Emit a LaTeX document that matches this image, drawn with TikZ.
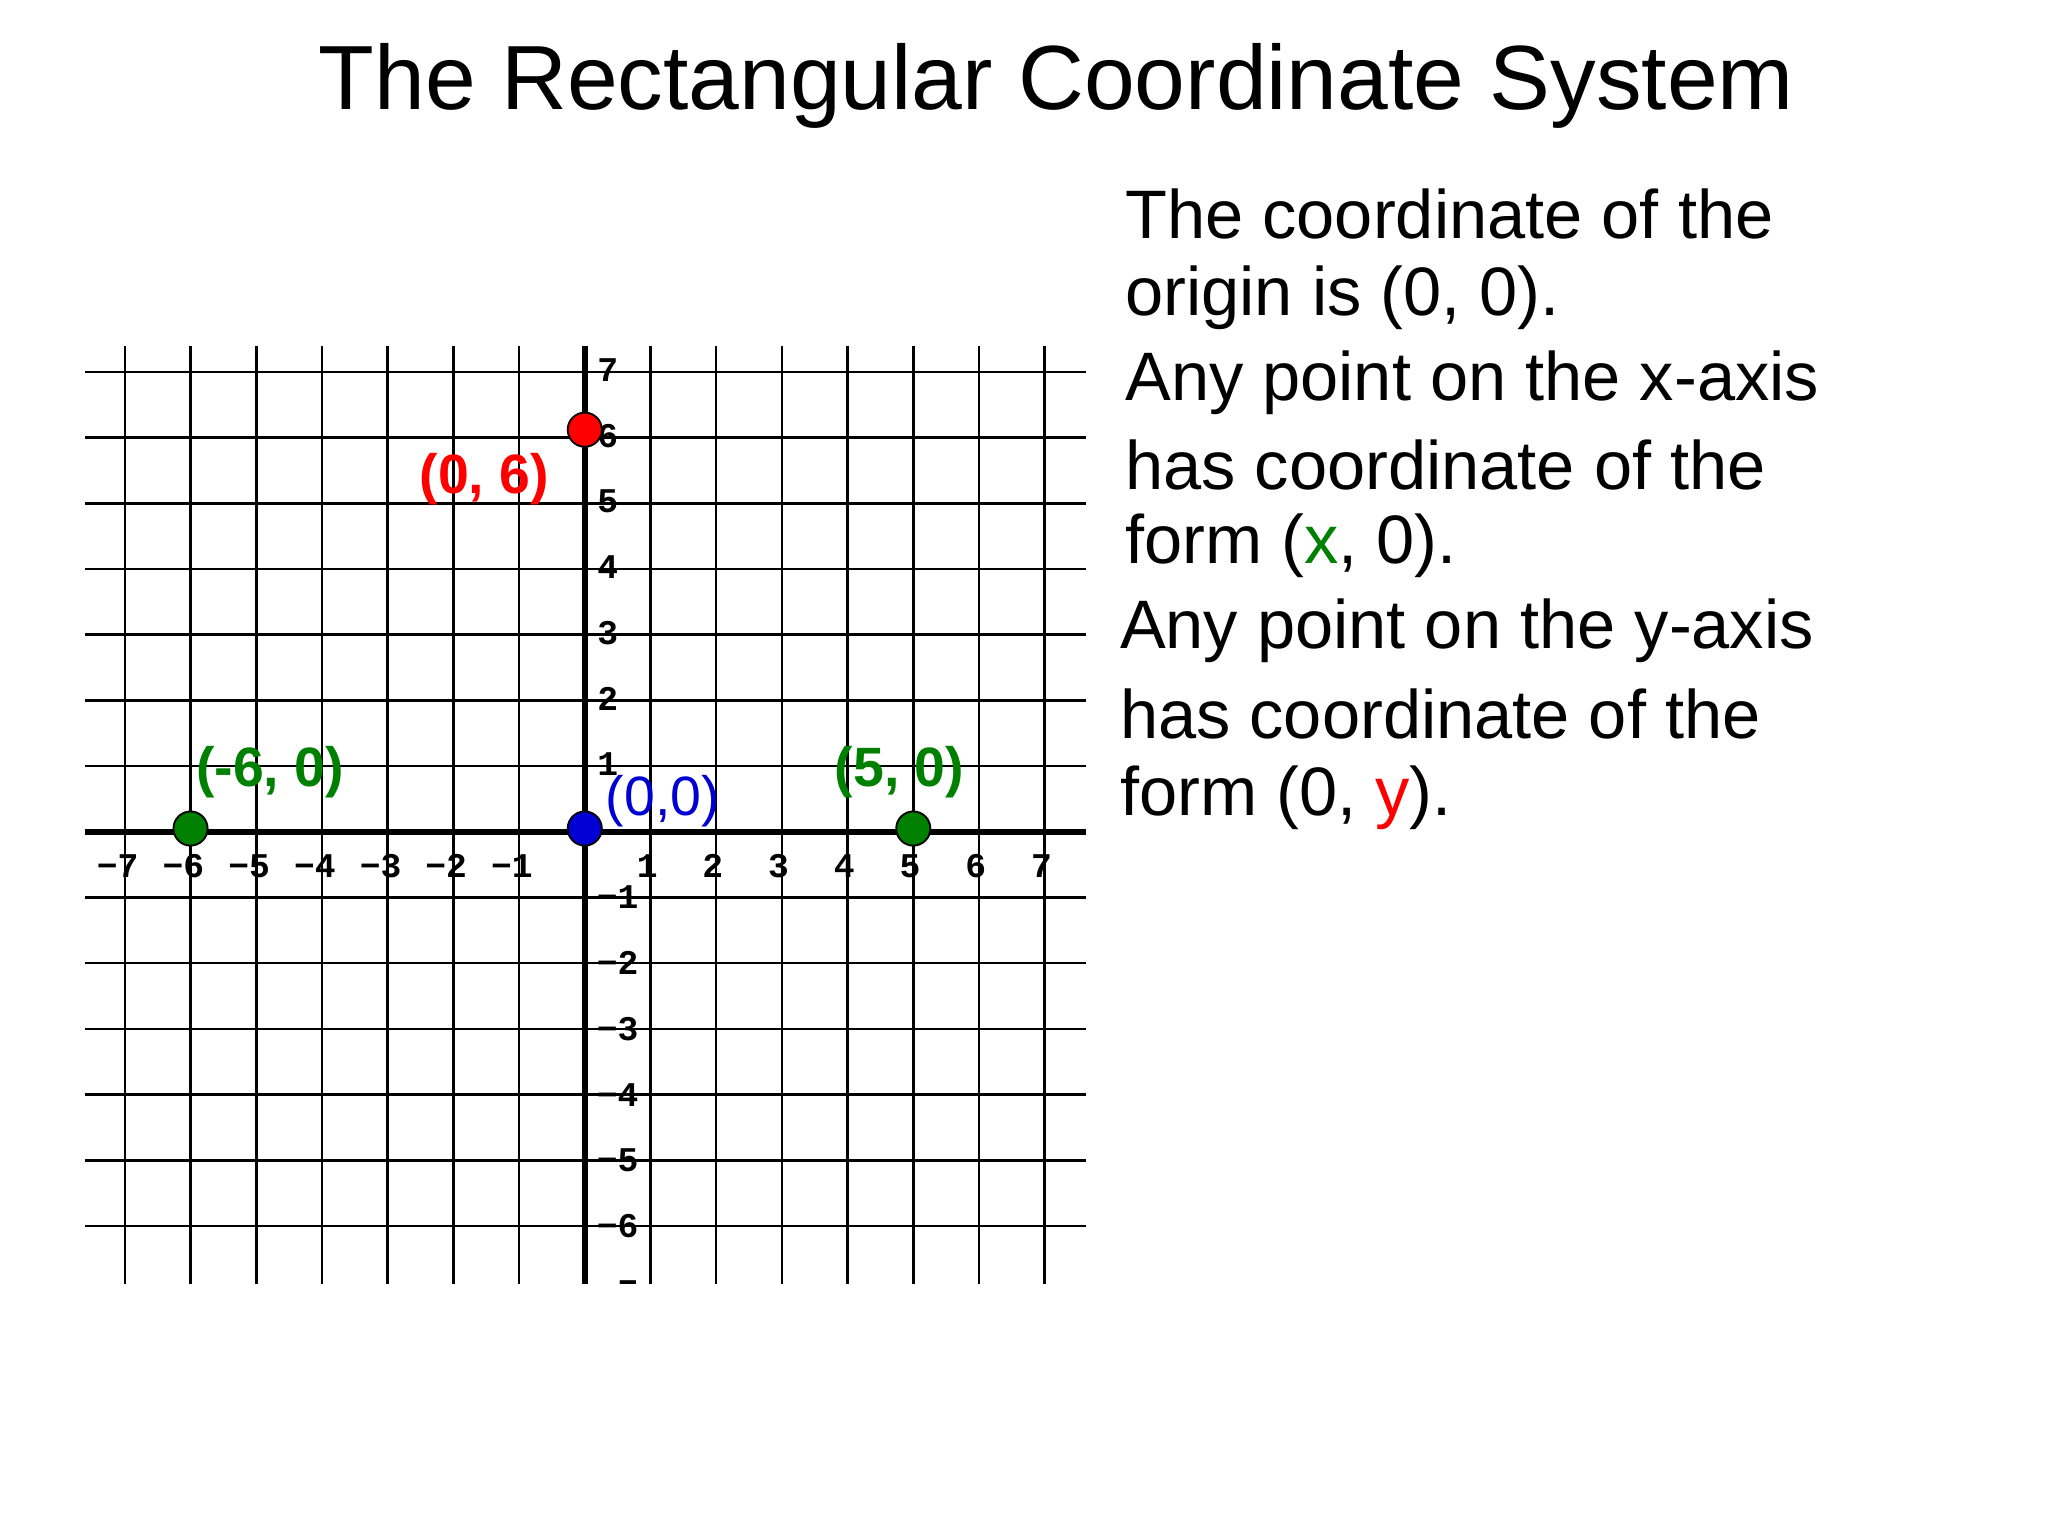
\documentclass[tikz,border=0pt]{standalone}
\usepackage{fontspec}
\setmainfont{Liberation Sans}
\newfontfamily\axfont{Liberation Mono}
\definecolor{ptgreen}{RGB}{0,128,0}
\definecolor{ptblue}{RGB}{0,0,210}
\begin{document}
\begin{tikzpicture}[
  gridline/.style={line width=1.1pt},
  axisline/.style={line width=2.8pt},
  tick/.style={font=\axfont\bfseries\fontsize{15}{15}\selectfont, inner sep=0pt},
  pt/.style={circle, draw=black, line width=0.8pt, minimum size=0.52cm, inner sep=0pt},
  body/.style={anchor=west, font=\fontsize{29.7}{34}\selectfont, inner sep=0pt}
]
\useasboundingbox (-8.90,-10.72) rectangle (22.27,12.66);
\fill[white] (-8.90,-10.72) rectangle (22.27,12.66);
% grid
\foreach \x in {-7,...,7} \draw[gridline] (\x,-6.88) -- (\x,7.4);
\foreach \y in {-6,...,7} \draw[gridline] (-7.6,\y) -- (7.63,\y);
\draw[axisline] (-7.6,0) -- (7.63,0);
\draw[axisline] (0,-6.88) -- (0,7.4);
% tick labels
\foreach \x in {-7,...,-1} \node[tick] at (\x+0.05,-0.52) {\llap{−}\pgfmathparse{int(-\x)}\pgfmathresult};
\foreach \x in {1,...,7} \node[tick] at (\x-0.05,-0.52) {\x};
\foreach \y in {1,...,7} \node[tick] at (0.35,\y+0.03) {\y};
\foreach \y in {-6,...,-1} \node[tick] at (0.5,\y) {−\pgfmathparse{int(-\y)}\pgfmathresult};
\begin{scope}
\clip (-1,-6.88) rectangle (2,-6);
\node[tick] at (0.5,-7) {−7};
\end{scope}
% points
\node[pt, fill=red] (p06) at (0,6.12) {};
\node[pt, fill=ptgreen] (pm6) at (-6,0.05) {};
\node[pt, fill=ptgreen] (p50) at (5,0.05) {};
\node[pt, fill=ptblue] (p00) at (0,0.05) {};
\node[text=red, font=\bfseries\fontsize{24}{24}\selectfont] (l06) at (-1.53,5.37) {(0, 6)};
\node[text=ptgreen, font=\bfseries\fontsize{24}{24}\selectfont] (lm6) at (-4.79,0.91) {(-6, 0)};
\node[text=ptgreen, font=\bfseries\fontsize{24}{24}\selectfont] (l50) at (4.79,0.91) {(5, 0)};
\node[text=ptblue, font=\fontsize{24}{24}\selectfont] (l00) at (1.19,0.46) {(0,0)};
% title
\node[font=\fontsize{39.5}{44}\selectfont] (title) at (7.18,11.35) {The Rectangular Coordinate System};
% body text
\node[body] (t1) at (8.22,9.40) {The coordinate of the};
\node[body] (t2) at (8.22,8.13) {origin is (0, 0).};
\node[body] (t3) at (8.22,6.84) {Any point on the x-axis};
\node[body] (t4) at (8.22,5.59) {has coordinate of the};
\node[body] (t5) at (8.22,4.35) {form (\textcolor{ptgreen}{x}, 0).};
\node[body] (t6) at (8.14,3.06) {Any point on the y-axis};
\node[body] (t7) at (8.14,1.79) {has coordinate of the};
\node[body] (t8) at (8.14,0.52) {form (0, \textcolor{red}{y}).};
\end{tikzpicture}
\end{document}
